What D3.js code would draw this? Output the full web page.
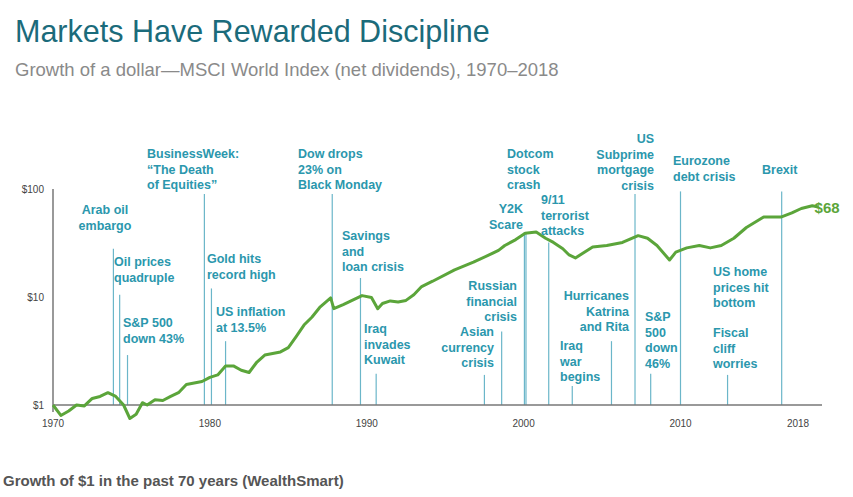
<!DOCTYPE html>
<html>
<head>
<meta charset="utf-8">
<script src="https://cdn.jsdelivr.net/npm/d3@7"></script>
<style>
  body { margin: 0; background: #fff; font-family: "Liberation Sans", Arial, sans-serif; }
</style>
</head>
<body>
<svg id="chart" width="853" height="497"></svg>
<script>
// growth of $1
const years = [1970, 1970.5, 1971, 1971.5, 1972, 1972.5, 1973, 1973.5, 1974, 1974.5, 1974.9, 1975.3, 1975.7, 1976, 1976.5, 1977, 1977.5, 1978, 1978.5, 1979, 1979.5, 1980, 1980.5, 1981, 1981.5, 1982, 1982.5, 1983, 1983.5, 1984, 1984.5, 1985, 1985.5, 1986, 1986.5, 1987, 1987.7, 1987.9, 1988.5, 1989, 1989.7, 1990.3, 1990.7, 1991, 1991.5, 1992, 1992.5, 1993, 1993.5, 1994.2, 1995.6, 1996.8, 1997.8, 1998.4, 1998.8, 1999.5, 2000.1, 2000.8, 2001.4, 2001.9, 2002.5, 2002.9, 2003.3, 2004.4, 2005.3, 2006.3, 2007.3, 2007.9, 2008.5, 2009.3, 2009.7, 2010.4, 2011.2, 2011.9, 2012.6, 2013.4, 2014.2, 2015.3, 2016.4, 2017.1, 2017.7, 2018.4, 2018.8];
const values = [1.0, 0.8, 0.88, 1.0, 0.98, 1.15, 1.2, 1.3, 1.2, 1.0, 0.75, 0.82, 1.05, 1.0, 1.12, 1.1, 1.2, 1.3, 1.55, 1.6, 1.65, 1.8, 1.9, 2.3, 2.3, 2.1, 2.0, 2.5, 2.9, 3.0, 3.1, 3.4, 4.3, 5.5, 6.5, 8.0, 9.8, 7.8, 8.5, 9.2, 10.3, 9.9, 7.8, 8.7, 9.2, 9.0, 9.3, 10.5, 12.5, 14, 17.8, 21, 24.5, 27, 30, 34, 39, 40, 35, 32, 28, 24.5, 23, 29, 30, 32, 37, 35, 30, 22, 26, 28.5, 30, 28.5, 30, 35, 44, 55, 55, 60, 66, 70, 68];

const xTicks = [1970, 1980, 1990, 2000, 2010, 2018];
const yTicks = [1, 10, 100];
const yTickLabels = ["$1", "$10", "$100"];

const eventNames = [
  ["Arab oil", "embargo"], ["Oil prices", "quadruple"], ["S&P 500", "down 43%"],
  ["BusinessWeek:", "\u201cThe Death", "of Equities\u201d"], ["Gold hits", "record high"], ["US inflation", "at 13.5%"],
  ["Dow drops", "23% on", "Black Monday"], ["Savings", "and", "loan crisis"], ["Iraq", "invades", "Kuwait"],
  ["Asian", "currency", "crisis"], ["Russian", "financial", "crisis"], ["Y2K", "Scare"],
  ["Dotcom", "stock", "crash"], ["9/11", "terrorist", "attacks"], ["Iraq", "war", "begins"],
  ["Hurricanes", "Katrina", "and Rita"], ["US", "Subprime", "mortgage", "crisis"], ["S&P", "500", "down", "46%"],
  ["Eurozone", "debt crisis"], ["US home", "prices hit", "bottom"], ["Fiscal", "cliff", "worries"], ["Brexit"]
];
const eventYears = [1973.85, 1974.25, 1974.75, 1979.65, 1980.1, 1981.0, 1987.8, 1989.6, 1990.6,
  1997.5, 1998.6, 2000.05, 2000.15, 2001.6, 2003.1, 2005.6, 2007.1, 2008.1, 2010.0, 2013.0, 2013.0, 2016.45];
const eventTops = [28, 10.5, 2.9, 90, 12, 3.9, 90, 15, 1.95, 1.9, 4.8, 40, 40, 32, 1.5, 3.9, 90, 1.95, 95, null, 1.9, 95];
const labelPos = [
  [105, 214, "middle"], [114, 266, "start"], [123, 327, "start"],
  [147, 158, "start"], [207, 263, "start"], [216, 316, "start"],
  [298, 158, "start"], [342, 240, "start"], [364, 333, "start"],
  [494, 336, "end"], [517, 290, "end"], [523, 213, "end"],
  [507, 158, "start"], [541, 204, "start"], [560, 350, "start"],
  [629, 300, "end"], [654, 143, "end"], [645, 321, "start"],
  [673, 165, "start"], [713, 276, "start"], [713, 337, "start"], [762, 174, "start"]
];

const svg = d3.select("#chart");
const teal = "#2b97ad";

const x = d3.scaleLinear().domain([1970, 2018]).range([53, 806]);
const y = d3.scaleLog().domain([1, 100]).range([405, 189]);

svg.append("text").attr("x", 15).attr("y", 42)
  .attr("font-size", 30.5).attr("fill", "#1b6b7b")
  .text("Markets Have Rewarded Discipline");
svg.append("text").attr("x", 15).attr("y", 76)
  .attr("font-size", 18.5).attr("fill", "#8a8a8a")
  .text("Growth of a dollar\u2014MSCI World Index (net dividends), 1970\u20132018");

// event lines
eventYears.forEach((yr, i) => {
  if (eventTops[i] == null) return;
  svg.append("line")
    .attr("x1", x(yr)).attr("x2", x(yr))
    .attr("y1", y(1)).attr("y2", y(eventTops[i]))
    .attr("stroke", "#6bb6c9").attr("stroke-width", 1.2);
});

// axes
svg.append("line").attr("x1", 53).attr("x2", 822).attr("y1", y(1)).attr("y2", y(1))
  .attr("stroke", "#777").attr("stroke-width", 1.5);
svg.append("line").attr("x1", 53).attr("x2", 53).attr("y1", y(100)).attr("y2", 412)
  .attr("stroke", "#777").attr("stroke-width", 1.5);

svg.selectAll(".xt").data(xTicks).enter().append("text")
  .attr("x", d => d === 2018 ? x(d) - 8 : x(d)).attr("y", 427).attr("text-anchor", "middle")
  .attr("font-size", 10).attr("fill", "#444").text(d => d);
svg.selectAll(".yt").data(yTicks).enter().append("text")
  .attr("x", 44).attr("y", d => y(d) + 4).attr("text-anchor", "end")
  .attr("font-size", 10).attr("fill", "#444").text((d, i) => yTickLabels[i]);

// series
const line = d3.line().x((d, i) => x(years[i])).y(d => y(d));
svg.append("path").datum(values).attr("d", line)
  .attr("fill", "none").attr("stroke", "#5ba53a").attr("stroke-width", 3)
  .attr("stroke-linejoin", "round");

svg.append("text").attr("x", x(2018.8) - 4).attr("y", y(68) + 6)
  .attr("font-size", 15).attr("font-weight", "bold").attr("fill", "#5ba53a").text("$68");

// event labels
eventNames.forEach((lines, i) => {
  const [lx, ly, anchor] = labelPos[i];
  const t = svg.append("text").attr("x", lx).attr("y", ly)
    .attr("text-anchor", anchor).attr("font-size", 12.5)
    .attr("font-weight", "bold").attr("fill", teal);
  lines.forEach((s, j) => t.append("tspan").attr("x", lx).attr("dy", j ? 15.5 : 0).text(s));
});

svg.append("text").attr("x", 3).attr("y", 486)
  .attr("font-size", 15).attr("font-weight", "bold").attr("fill", "#555")
  .text("Growth of $1 in the past 70 years (WealthSmart)");
</script>
</body>
</html>
